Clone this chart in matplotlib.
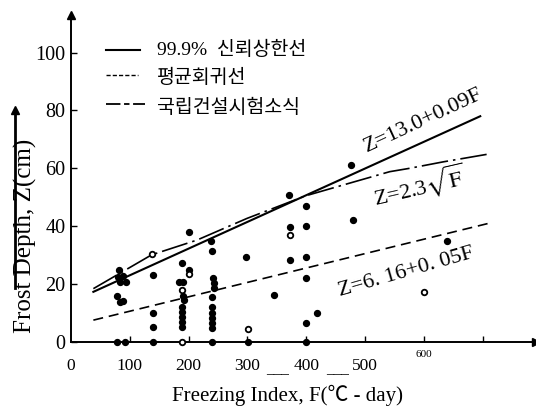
import matplotlib
matplotlib.use("Agg")
from matplotlib import pyplot as plt
from matplotlib.lines import Line2D

plt.rcParams["mathtext.fontset"] = "stix"

# frost depth observations (filled dots)
obs_F = [82, 80, 88, 84, 93, 78, 83, 88, 78, 92,
         140, 139, 139, 139,
         200, 188, 200, 183, 190, 190, 193, 188, 188, 188, 188, 188,
         238, 240, 241, 243, 244, 240, 240, 240, 240, 240, 240, 240,
         298, 301,
         370, 400, 477, 372, 400, 479, 372, 400, 400, 346, 418, 400, 400, 640]
obs_Z = [24.7, 22.4, 22.7, 20.7, 20.7, 15.7, 13.8, 14.1, 0, 0,
         23.0, 9.8, 4.9, 0,
         37.8, 27.3, 24.7, 20.7, 20.5, 15.7, 14.4, 12.0, 10.3, 8.6, 6.9, 4.9,
         34.8, 31.5, 21.9, 20.2, 18.6, 15.5, 12.0, 9.8, 8.0, 6.5, 4.6, 0,
         29.3, 0,
         50.7, 47.0, 61.0, 39.5, 40.0, 42.0, 28.3, 29.1, 22.1, 16.1, 9.8, 6.5, 0, 34.8]

# hollow dots
open_F = [137, 201, 188, 188, 372, 301, 601]
open_Z = [30.2, 23.4, 17.8, 0, 37.0, 4.3, 17.0]

# 99.9% upper confidence line
upper_F = [38, 696]
upper_Z = [17.2, 78.0]

# mean regression line
mean_F = [38, 710]
mean_Z = [7.4, 40.9]

# KICT formula curve
kict_F = [38, 137, 214, 299, 400, 463, 542, 574, 633, 710]
kict_Z = [18.3, 30.0, 35.1, 42.6, 50.5, 54.2, 58.8, 59.9, 62.2, 64.9]

xtick_pos = [0, 100, 200, 300, 400, 500]
xtick_labels = ["0", "100", "200", "300", "400", "500"]
ytick_pos = [0, 20, 40, 60, 80, 100]

legend_labels = ["99.9%  신뢰상한선", "평균회귀선", "국립건설시험소식"]

serif = "Liberation Serif"

fig = plt.figure(figsize=(5.36, 4.09), dpi=100)
ax = fig.add_axes([0.1325, 0.165, 0.8666, 0.798])
ax.set_xlim(0, 790)
ax.set_ylim(0, 113)

ax.plot(upper_F, upper_Z, color="black", lw=1.5)
ax.plot(mean_F, mean_Z, color="black", lw=1.2, dashes=(6, 3.5))
ax.plot(kict_F, kict_Z, color="black", lw=1.2, dashes=(16, 3, 1.5, 3))

ax.scatter(obs_F, obs_Z, s=18, color="black", zorder=3, clip_on=False)
ax.scatter(open_F, open_Z, s=16, facecolor="white", edgecolor="black",
           linewidth=1.3, zorder=3, clip_on=False)

# axes with arrows
for side in ["top", "right"]:
    ax.spines[side].set_visible(False)
for side in ["left", "bottom"]:
    ax.spines[side].set_linewidth(1.4)
ax.plot([0], [1], marker="^", ms=6, color="black", transform=ax.transAxes, clip_on=False)
ax.plot([1], [0], marker=">", ms=6, color="black", transform=ax.transAxes, clip_on=False)

ax.set_yticks(ytick_pos)
ax.set_yticklabels([str(v) for v in ytick_pos], family=serif, fontsize=14.5)
ax.tick_params(axis="y", direction="in", length=4, width=1, pad=4)
ax.set_xticks([100, 200, 300, 400, 500, 600, 700])
ax.set_xticklabels([])
ax.tick_params(axis="x", direction="in", length=4, width=1)
for pos, lab in zip(xtick_pos, xtick_labels):
    ax.text(pos, -0.05, lab, transform=ax.get_xaxis_transform(), ha="center", va="top",
            family=serif, fontsize=12.5)
ax.text(600, -0.025, "600", transform=ax.get_xaxis_transform(), ha="center", va="top",
        family=serif, fontsize=8)
for pos in [352, 454]:
    ax.text(pos, -0.065, "___", transform=ax.get_xaxis_transform(), ha="center", va="top",
            family=serif, fontsize=11)

# equation labels
ax.text(600, 76.6, "Z=13.0+0.09F", rotation=25, rotation_mode="anchor",
        ha="center", va="center", family=serif, fontsize=16)
ax.text(592, 53.8, r"Z=2.3$\sqrt{\mathrm{F}}$", rotation=13, rotation_mode="anchor",
        ha="center", va="center", family=serif, fontsize=16)
ax.text(570, 23.9, "Z=6. 16+0. 05F", rotation=16, rotation_mode="anchor",
        ha="center", va="center", family=serif, fontsize=16)

# legend drawn by hand
W, H = 536, 409
leg_y = [50, 75, 104]
leg_x1 = [140, 138, 145]
leg_style = [dict(lw=1.5), dict(lw=1.0, dashes=(3, 1.5)), dict(lw=1.3, dashes=(8, 2, 3, 2))]
for y, x1, st in zip(leg_y, leg_x1, leg_style):
    fig.add_artist(Line2D([106 / W, x1 / W], [1 - y / H, 1 - y / H], color="black", **st))
for y, lab in zip([50, 78, 108], legend_labels):
    fig.text(157 / W, 1 - y / H, lab, ha="left", va="center", fontsize=14,
             family=[serif, "Noto Sans CJK KR"])

# axis titles
fig.text(288 / W, 1 - 395 / H, "Freezing Index, F(℃ - day)", ha="center", va="center",
         family=[serif, "Noto Sans CJK KR"], fontsize=15)
fig.text(25 / W, 1 - 236 / H, "Frost Depth, Z(cm)", rotation=90, ha="center", va="center",
         family=serif, fontsize=18)
fig.add_artist(Line2D([15 / W, 15 / W], [1 - 288 / H, 1 - 112 / H], color="black", lw=2))
fig.add_artist(Line2D([15 / W], [1 - 110 / H], marker="^", ms=6, color="black"))

fig.savefig("out.png", dpi=100)
